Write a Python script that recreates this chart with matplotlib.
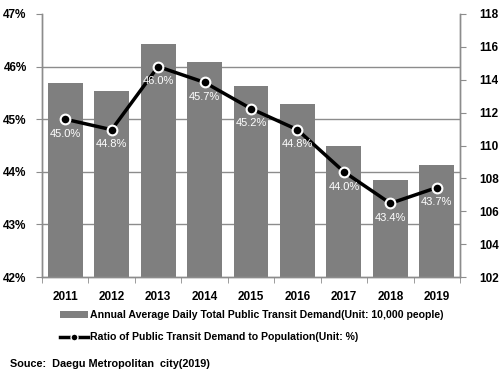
import numpy as np
import matplotlib.pyplot as plt
from matplotlib.ticker import FixedLocator
from matplotlib.patches import Patch
from matplotlib.lines import Line2D

plt.rcParams['font.family'] = ['Liberation Sans', 'DejaVu Sans']

years = ['2011', '2012', '2013', '2014', '2015', '2016', '2017', '2018', '2019']
# daily demand, unit: 10,000 people (right axis)
demand = [113.8, 113.3, 116.2, 115.1, 113.6, 112.55, 110.0, 107.9, 108.8]
# ratio of demand to population, % (left axis)
ratio = [45.0, 44.8, 46.0, 45.7, 45.2, 44.8, 44.0, 43.4, 43.7]

bar_label = 'Annual Average Daily Total Public Transit Demand(Unit: 10,000 people)'
line_label = 'Ratio of Public Transit Demand to Population(Unit: %)'
source = 'Souce:  Daegu Metropolitan  city(2019)'

grey = '#7f7f7f'
axis_grey = '#8c8c8c'

fig = plt.figure(figsize=(5.01, 3.75), dpi=100)
ax = fig.add_axes([0.0838, 0.2613, 0.8344, 0.7014])
x = np.arange(len(years))

# bars on the demand scale
ax.bar(x, demand, width=0.75, color=grey, zorder=2)
ax.set_ylim(102, 118)
ax.set_xlim(-0.5, len(years) - 0.5)
ax.set_yticks(np.arange(102, 119, 2))
# gridlines matching the percent ticks, drawn under the bars
ax.yaxis.set_minor_locator(FixedLocator(np.linspace(102, 118, 6)))
ax.grid(which='minor', axis='y', color=axis_grey, linewidth=1.0, zorder=0)
ax.set_axisbelow(True)
ax.set_xticks(x)
ax.set_xticklabels(years, fontsize=8.5, fontweight='bold')
ax.xaxis.set_minor_locator(FixedLocator(np.arange(-0.5, len(years), 1)))
ax.tick_params(axis='x', which='major', length=0, pad=10)
ax.tick_params(axis='x', which='minor', length=4, color=axis_grey)
ax.tick_params(axis='y', which='minor', length=0)

# line on the percent scale
axl = ax.twinx()
axl.plot(x, ratio, color='black', linewidth=2.5, marker='o', markersize=7,
         markerfacecolor='black', markeredgecolor='white', markeredgewidth=1.5,
         zorder=3)
axl.set_ylim(42, 47)
axl.set_yticks(np.arange(42, 48, 1))
axl.set_yticklabels([f'{v}%' for v in range(42, 48)], fontsize=8.5, fontweight='bold')
for xi, v in zip(x, ratio):
    axl.annotate(f'{v:.1f}%', (xi, v), xytext=(0, -7), textcoords='offset points',
                 ha='center', va='top', color='white', fontsize=8)

# swap sides: percent on the left, demand on the right
axl.yaxis.tick_left()
ax.yaxis.tick_right()
ax.set_yticklabels([str(v) for v in range(102, 119, 2)], fontsize=8.5, fontweight='bold')
ax.tick_params(axis='y', which='major', length=4, color=axis_grey, pad=10)
axl.tick_params(axis='y', length=4, color=axis_grey, pad=7)

for a in (ax, axl):
    a.spines['top'].set_visible(False)
    for s in ('left', 'right', 'bottom'):
        a.spines[s].set_color(axis_grey)
        a.spines[s].set_linewidth(1.0)

handles = [Patch(facecolor=grey, label=bar_label),
           Line2D([], [], color='black', linewidth=2.5, marker='o', markersize=5,
                  markerfacecolor='black', markeredgecolor='white', label=line_label)]
fig.legend(handles=handles, loc='upper left', bbox_to_anchor=(0.119, 0.172),
           frameon=False, prop={'weight': 'bold', 'size': 7.6},
           handlelength=2.7, handleheight=0.6, handletextpad=0.2,
           labelspacing=1.1, borderaxespad=0, borderpad=0)

fig.text(0.02, 0.03, source, fontsize=7.8, fontweight='bold', va='center', ha='left')

fig.savefig('out.png', dpi=100)
